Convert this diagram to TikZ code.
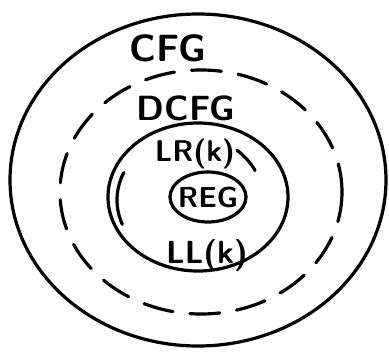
\documentclass[tikz,border=0pt]{standalone}
\usetikzlibrary{shapes.geometric}
\begin{document}
\begin{tikzpicture}[x=1pt, y=-1pt, line width=3.2pt, line cap=round,
    setline/.style={draw=black},
    dashline/.style={draw=black, dash pattern=on 30pt off 17pt},
    setlabel/.style={font=\sffamily\bfseries}]
\useasboundingbox (0,0) rectangle (389,354);
% outer set: CFG
\draw[setline] (198,180) ellipse (188 and 166);
\node[setlabel, font=\sffamily\bfseries\fontsize{38}{38}\selectfont] (cfg) at (168,48) {CFG};
% deterministic ones (dashed)
\draw[dashline] (201,192) ellipse (141 and 122);
\node[setlabel, font=\sffamily\bfseries\fontsize{35}{35}\selectfont] (dcfg) at (186,108) {DCFG};
% LR(k)
\draw[setline] (198,197) ellipse (90 and 74);
\node[setlabel, font=\sffamily\bfseries\fontsize{30}{30}\selectfont] (lr) at (195,154) {LR(k)};
% LL(k), only two dashes
\draw[setline] ([shift={(190,200)}]158:73 and 65) arc[start angle=158, end angle=205, x radius=73, y radius=65];
\draw[setline] ([shift={(190,200)}]-27:73 and 65) arc[start angle=-27, end angle=-50, x radius=73, y radius=65];
\node[setlabel, font=\sffamily\bfseries\fontsize{32}{32}\selectfont] (ll) at (207,255) {LL(k)};
% REG in the middle
\node[setlabel, font=\sffamily\bfseries\fontsize{29}{29}\selectfont] (reg) at (208,197) {REG};
\draw[setline] (reg.center) ellipse (38 and 25);
\end{tikzpicture}
\end{document}
